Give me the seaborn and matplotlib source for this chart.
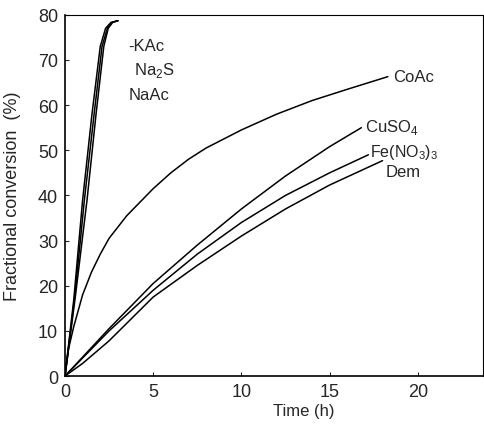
import pandas as pd
import matplotlib
matplotlib.use("Agg")
import matplotlib.pyplot as plt
import seaborn as sns

# curvas (tiempo en h, conversion en %)
t_kac = [0, 0.5, 1.0, 1.53, 2.0, 2.3, 2.6, 3.0]
y_kac = [0, 17, 39, 58, 73, 77, 78.3, 78.7]
t_na2s = [0, 0.55, 1.1, 1.65, 2.1, 2.4, 2.65, 3.0]
y_na2s = [0, 17.5, 39, 58, 73, 77, 78.3, 78.7]
t_naac = [0, 0.6, 1.25, 1.76, 2.2, 2.45, 2.7, 3.0]
y_naac = [0, 18, 39, 58, 73, 77, 78.3, 78.7]

t_coac = [0, 0.2, 0.5, 1, 1.5, 2, 2.5, 3, 3.5, 4, 5, 6, 7, 8, 10, 12, 14, 16, 18.3]
y_coac = [0, 6, 11, 18, 23, 27, 30.5, 33, 35.5, 37.5, 41.5, 45, 48, 50.5, 54.5, 58, 61, 63.5, 66.3]

t_cuso4 = [0, 2.5, 5, 7.5, 10, 12.5, 15, 16.8]
y_cuso4 = [0, 10.5, 20.5, 29, 37, 44.3, 50.8, 55]
t_fe = [0, 2.5, 5, 7.5, 10, 12.5, 15, 17.2]
y_fe = [0, 10, 19, 27, 34, 40, 45, 49]
t_dem = [0, 1, 2.5, 5, 7.5, 10, 12.5, 15, 18]
y_dem = [0, 2.8, 7.8, 17.5, 24.5, 31, 37, 42.3, 47.7]

series = {
    "KAc": (t_kac, y_kac),
    "Na2S": (t_na2s, y_na2s),
    "NaAc": (t_naac, y_naac),
    "CoAc": (t_coac, y_coac),
    "CuSO4": (t_cuso4, y_cuso4),
    "Fe(NO3)3": (t_fe, y_fe),
    "Dem": (t_dem, y_dem),
}

frames = []
for nombre, (t, y) in series.items():
    frames.append(pd.DataFrame({"tiempo": t, "conversion": y, "serie": nombre}))
df = pd.concat(frames, ignore_index=True)

sns.set_style("ticks")
plt.rcParams['font.family'] = ['Liberation Sans', 'DejaVu Sans']
plt.rcParams['mathtext.fontset'] = 'custom'
plt.rcParams['mathtext.rm'] = 'Liberation Sans'

fig = plt.figure(figsize=(4.85, 4.27), dpi=100)
ax = fig.add_axes([0.134, 0.117, 0.862, 0.846])

sns.lineplot(data=df, x="tiempo", y="conversion", units="serie", estimator=None,
             sort=False, color="black", linewidth=1.1, ax=ax)

ax.set_xlim(0, 23.7)
ax.set_ylim(0, 80)
ax.set_xticks([0, 5, 10, 15, 20])
ax.set_yticks(range(0, 81, 10))
ax.tick_params(direction="in", length=3, labelsize=13, pad=5)
for nombre, s in ax.spines.items():
    s.set_color("black")
    s.set_linewidth(1.2 if nombre in ("left", "bottom") else 0.8)

ax.set_xlabel("Time (h)", fontsize=12)
ax.xaxis.set_label_coords(0.57, -0.075)
ax.set_ylabel("Fractional conversion  (%)", fontsize=13)
ax.yaxis.set_label_coords(-0.105, 0.5)

# etiquetas de las curvas
ax.text(3.6, 73.3, "-KAc", fontsize=12, va="center")
ax.text(3.9, 67.8, "Na$_2$S", fontsize=12, va="center")
ax.text(3.6, 62.3, "NaAc", fontsize=12, va="center")
ax.text(18.6, 66.3, "CoAc", fontsize=12, va="center")
ax.text(17.0, 55.2, "CuSO$_4$", fontsize=12, va="center")
ax.text(17.3, 49.8, "Fe(NO$_3$)$_3$", fontsize=11.5, va="center")
ax.text(18.2, 45.3, "Dem", fontsize=12, va="center")

fig.savefig("out.png", dpi=100)
